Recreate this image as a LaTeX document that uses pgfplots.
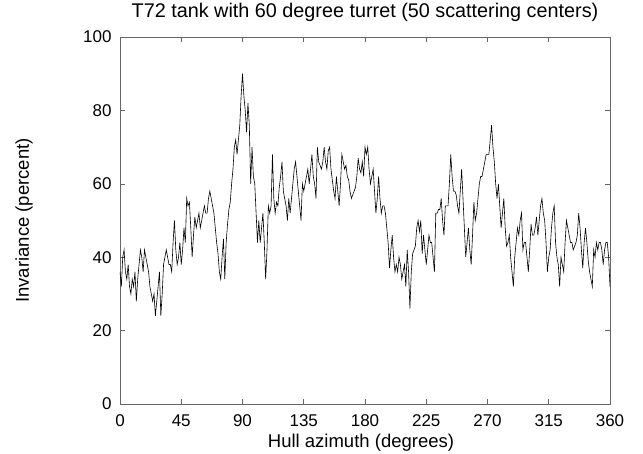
\documentclass[border=0pt]{standalone}
\usepackage{pgfplots}
\pgfplotsset{compat=1.18}
\usepackage{fontspec}
\setmainfont{Liberation Sans}
\usetikzlibrary{calc}
\begin{document}
\begin{tikzpicture}
\begin{axis}[
  name=ax,
  scale only axis,
  width=490pt, height=367pt,
  xmin=0, xmax=360, ymin=0, ymax=100,
  xtick={0,45,...,360}, ytick={0,20,...,100},
  tick align=inside, major tick length=5pt,
  tick style={gray!80!black, line width=0.6pt},
  axis line style={gray!80!black, line width=0.6pt},
  every tick label/.append style={font=\fontsize{17}{20}\selectfont},
  /pgf/number format/assume math mode=true,
  xticklabel style={yshift=-7pt},
  yticklabel style={xshift=-5pt},
  title={T72 tank with 60 degree turret (50 scattering centers)},
  title style={font=\fontsize{19.8}{22}\selectfont, at={(0.5,1)}, anchor=base, yshift=13pt},
  xlabel={Hull azimuth (degrees)},
  xlabel style={font=\fontsize{18.5}{21}\selectfont, at={(0.5,0)}, anchor=base, yshift=-43pt, xshift=-4pt},
  ylabel={Invariance (percent)},
  ylabel style={font=\fontsize{18.5}{21}\selectfont, at={(0,0.5)}, anchor=base, rotate=0, yshift=91pt},
]
\addplot[black, line width=0.6pt, mark=none] coordinates {
(0,36)(1,32)(2,40)(3,42)(4,36)(5,34)(6,38)(7,32)(8,30)(9,34)
(10,32)(11,36)(12,28)(13,34)(14,38)(15,42)(16,40)(17,36)(18,42)(19,40)
(20,38)(21,36)(22,32)(23,30)(24,28)(25,30)(26,24)(27,28)(28,32)(29,36)
(30,24)(31,30)(32,38)(33,40)(34,42)(35,40)(36,38)(37,38)(38,36)(39,44)
(40,50)(41,42)(42,38)(43,40)(44,44)(45,38)(46,42)(47,48)(48,44)(49,56)
(50,54)(51,55)(52,48)(53,40)(54,46)(55,51)(56,48)(57,50)(58,52)(59,48)
(60,50)(61,52)(62,54)(63,52)(64,52)(65,56)(66,58)(67,56)(68,54)(69,52)
(70,48)(71,44)(72,41)(73,36)(74,34)(75,40)(76,45)(77,34)(78,44)(79,49)
(80,53)(81,55)(82,60)(83,64)(84,70)(85,72)(86,68)(87,72)(88,76)(89,84)
(90,90)(91,84)(92,80)(93,74)(94,82)(95,76)(96,60)(97,70)(98,62)(99,60)
(100,52)(101,44)(102,50)(103,44)(104,48)(105,52)(106,44)(107,34)(108,42)(109,54)
(110,52)(111,54)(112,68)(113,56)(114,52)(115,55)(116,54)(117,59)(118,62)(119,66)
(120,58)(121,56)(122,54)(123,50)(124,56)(125,52)(126,56)(127,60)(128,64)(129,66)
(130,62)(131,58)(132,54)(133,50)(134,60)(135,58)(136,60)(137,62)(138,64)(139,60)
(140,64)(141,68)(142,62)(143,60)(144,56)(145,70)(146,66)(147,65)(148,64)(149,66)
(150,70)(151,66)(152,64)(153,69)(154,70)(155,64)(156,61)(157,58)(158,56)(159,62)
(160,58)(161,54)(162,60)(163,68)(164,66)(165,64)(166,65)(167,62)(168,61)(169,58)
(170,56)(171,57)(172,58)(173,59)(174,62)(175,67)(176,64)(177,63)(178,66)(179,62)
(180,70)(181,68)(182,70)(183,64)(184,60)(185,62)(186,64)(187,58)(188,52)(189,56)
(190,62)(191,56)(192,52)(193,54)(194,54)(195,52)(196,48)(197,44)(198,37)(199,42)
(200,46)(201,40)(202,36)(203,38)(204,36)(205,40)(206,38)(207,34)(208,36)(209,38)
(210,32)(211,42)(212,36)(213,26)(214,36)(215,41)(216,42)(217,43)(218,48)(219,50)
(220,47)(221,50)(222,41)(223,46)(224,42)(225,38)(226,42)(227,46)(228,44)(229,44)
(230,40)(231,36)(232,52)(233,52)(234,53)(235,53)(236,56)(237,50)(238,46)(239,54)
(240,54)(241,54)(242,60)(243,68)(244,62)(245,58)(246,58)(247,57)(248,54)(249,52)
(250,58)(251,64)(252,56)(253,48)(254,40)(255,44)(256,48)(257,42)(258,38)(259,46)
(260,55)(261,50)(262,52)(263,56)(264,60)(265,62)(266,62)(267,64)(268,66)(269,68)
(270,68)(271,68)(272,72)(273,76)(274,70)(275,66)(276,60)(277,56)(278,60)(279,54)
(280,48)(281,52)(282,56)(283,48)(284,43)(285,44)(286,46)(287,40)(288,36)(289,32)
(290,40)(291,44)(292,48)(293,46)(294,50)(295,52)(296,42)(297,44)(298,44)(299,40)
(300,36)(301,42)(302,49)(303,46)(304,46)(305,48)(306,51)(307,46)(308,50)(309,54)
(310,56)(311,52)(312,50)(313,44)(314,36)(315,40)(316,42)(317,48)(318,52)(319,54)
(320,44)(321,40)(322,38)(323,32)(324,40)(325,38)(326,36)(327,44)(328,50)(329,48)
(330,46)(331,44)(332,44)(333,42)(334,43)(335,44)(336,46)(337,52)(338,48)(339,42)
(340,37)(341,44)(342,48)(343,44)(344,39)(345,36)(346,34)(347,32)(348,42)(349,40)
(350,44)(351,42)(352,44)(353,44)(354,42)(355,38)(356,42)(357,44)(358,44)(359,40)
(360,32)
};
\end{axis}
\pgfresetboundingbox
\path[use as bounding box] ($(ax.south west)+(-120pt,-49pt)$) rectangle ($(ax.north east)+(33pt,37pt)$);
\end{tikzpicture}
\end{document}
